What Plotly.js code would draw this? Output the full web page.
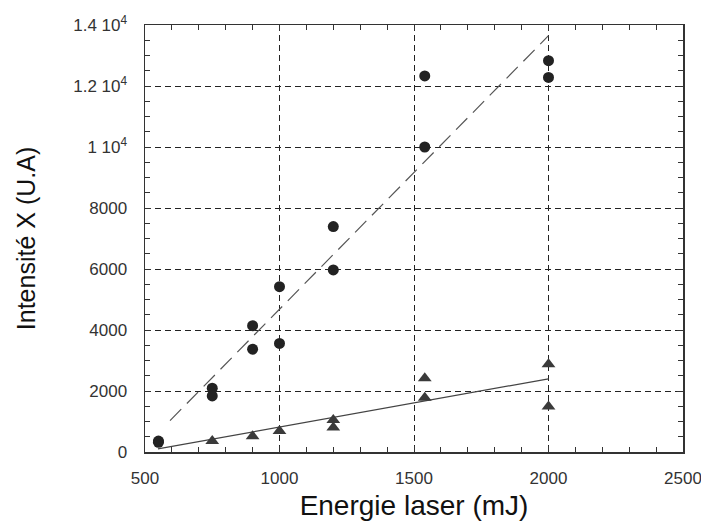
<!DOCTYPE html>
<html>
<head>
<meta charset="utf-8">
<script src="https://cdn.plot.ly/plotly-3.0.1.min.js"></script>
<style>html,body{margin:0;padding:0;background:#fff;}#chart{width:701px;height:524px;}</style>
</head>
<body>
<div id="chart"></div>
<script>
// Circles (upper series)
const circleX = [550, 550, 750, 750, 900, 900, 1000, 1000, 1200, 1200, 1540, 1540, 2000, 2000];
const circleY = [320, 360, 2090, 1840, 4140, 3370, 5420, 3560, 7390, 5970, 12330, 10000, 12830, 12280];
// Triangles (lower series)
const triX = [750, 900, 1000, 1200, 1200, 1540, 1540, 2000, 2000];
const triY = [360, 520, 690, 1050, 800, 2415, 1780, 2875, 1490];
// Linear fits (end points)
const fitCircleX = [593, 2000];
const fitCircleY = [1030, 13650];
const fitTriX = [548, 2000];
const fitTriY = [100, 2400];
// Axis ticks
const yTickVals = [0, 2000, 4000, 6000, 8000, 10000, 12000, 14000];
const yTickText = ['0', '2000', '4000', '6000', '8000', '1 10<sup>4</sup>', '1.2 10<sup>4</sup>', '1.4 10<sup>4</sup>'];
const xTickVals = [500, 1000, 1500, 2000, 2500];
const xTickText = ['500', '1000', '1500', '2000', '2500'];

const FONT = 'Liberation Sans, Arial, sans-serif';

const traces = [
  {x: fitCircleX, y: fitCircleY, mode: 'lines', line: {color: '#555', width: 1.2, dash: '16px,8px'}, hoverinfo: 'skip'},
  {x: fitTriX, y: fitTriY, mode: 'lines', line: {color: '#444', width: 1.2}, hoverinfo: 'skip'},
  {x: circleX, y: circleY, mode: 'markers', marker: {symbol: 'circle', size: 11, color: '#222'}},
  {x: triX, y: triY, mode: 'markers', marker: {symbol: 'triangle-up', size: 12, color: '#3a3a3a'}}
];

const axisCommon = {
  showline: true, linecolor: '#333', linewidth: 1.5, mirror: 'allticks',
  ticks: 'inside', ticklen: 6, tickcolor: '#333', tickwidth: 1,
  showgrid: true, gridcolor: '#222', gridwidth: 1, griddash: '6px,4px',
  zeroline: false, ticklabeloverflow: 'allow',
  tickfont: {family: FONT, size: 17, color: '#333'}
};

const layout = {
  width: 701, height: 524,
  margin: {l: 145, r: 18, t: 25, b: 72},
  paper_bgcolor: '#fff', plot_bgcolor: '#fff',
  showlegend: false,
  xaxis: Object.assign({}, axisCommon, {
    range: [500, 2500], tickmode: 'array', tickvals: xTickVals, ticktext: xTickText,
    ticklabelstandoff: 10,
    minor: {dtick: 100, ticks: 'inside', ticklen: 5, tickcolor: '#333', showgrid: false},
    title: {text: 'Energie laser (mJ)', font: {family: FONT, size: 28, color: '#111'}, standoff: 8}
  }),
  yaxis: Object.assign({}, axisCommon, {
    range: [0, 14000], tickmode: 'array', tickvals: yTickVals, ticktext: yTickText,
    ticklabelstandoff: 13,
    minor: {dtick: 500, ticks: 'inside', ticklen: 5, tickcolor: '#333', showgrid: false},
    title: {text: 'Intensité X (U.A)', font: {family: FONT, size: 25, color: '#111'}, standoff: 30}
  })
};

Plotly.newPlot('chart', traces, layout, {staticPlot: true, displayModeBar: false});
</script>
</body>
</html>
